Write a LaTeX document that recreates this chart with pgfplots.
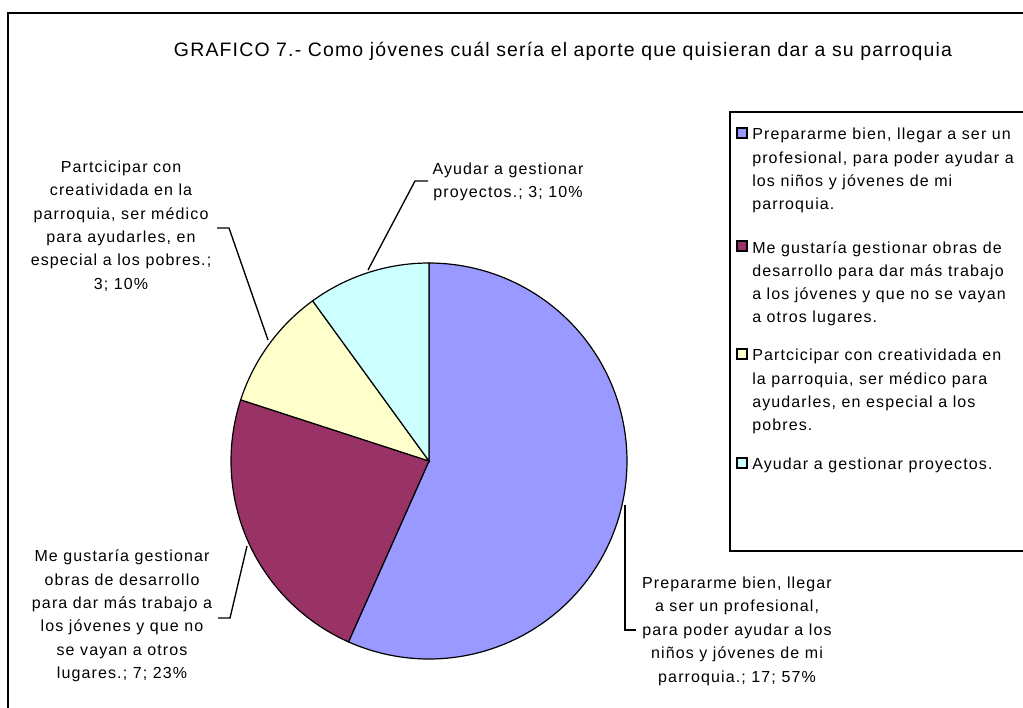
\documentclass[border=0pt]{standalone}
\usepackage{pgfplots}
\pgfplotsset{compat=1.18}
\usepackage{pgfplotstable}
\usepackage{fontspec}
\setmainfont{Liberation Sans}
\newfontfamily\lsfont[LetterSpace=7]{Liberation Sans}
\newfontfamily\lstfont[LetterSpace=6]{Liberation Sans}
\definecolor{pblue}{HTML}{9999FF}
\definecolor{pmaroon}{HTML}{993366}
\definecolor{pyellow}{HTML}{FFFFCC}
\definecolor{pcyan}{HTML}{CCFFFF}
\pgfplotstableread{
id value
A 17
B 7
C 3
D 3
}\piedata
\tikzset{
  lbl/.style={font=\lsfont\fontsize{12}{17.6}\selectfont, align=center, inner sep=0pt},
  leg/.style={font=\lsfont\fontsize{12}{17.4}\selectfont, align=left, inner sep=0pt, anchor=north west},
}
\begin{document}
\begin{tikzpicture}
\pgfplotstablegetelem{0}{value}\of\piedata \let\va\pgfplotsretval
\pgfplotstablegetelem{1}{value}\of\piedata \let\vb\pgfplotsretval
\pgfplotstablegetelem{2}{value}\of\piedata \let\vc\pgfplotsretval
\pgfplotstablegetelem{3}{value}\of\piedata \let\vd\pgfplotsretval
\pgfmathsetmacro\tot{\va+\vb+\vc+\vd}
\pgfmathsetmacro\aA{90}
\pgfmathsetmacro\aB{\aA-360*\va/\tot}
\pgfmathsetmacro\aC{\aB-360*\vb/\tot}
\pgfmathsetmacro\aD{\aC-360*\vc/\tot}
\pgfmathsetmacro\aE{\aD-360*\vd/\tot}
\begin{axis}[
  width=767.25pt, height=530.25pt, scale only axis,
  xmin=0, xmax=1023, ymin=0, ymax=707, y dir=reverse,
  hide axis, clip=false,
]
\path (axis cs:0,0) rectangle (axis cs:1023,707);
% outer chart border
\draw[overlay, line width=1.1pt] (axis cs:8,13) rectangle (axis cs:1045,725);
% title
\node[font=\lstfont\fontsize{14.6}{17}\selectfont] at (axis cs:563,51) {GRAFICO 7.- Como jóvenes cuál sería el aporte que quisieran dar a su parroquia};
% pie slices
\addplot[draw=black, line width=0.9pt, fill=pblue, domain=\aB:\aA, samples=120] ({429+198*cos(x)},{461-198*sin(x)}) -- (axis cs:429,461) -- cycle;
\addplot[draw=black, line width=0.9pt, fill=pmaroon, domain=\aC:\aB, samples=60] ({429+198*cos(x)},{461-198*sin(x)}) -- (axis cs:429,461) -- cycle;
\addplot[draw=black, line width=0.9pt, fill=pyellow, domain=\aD:\aC, samples=40] ({429+198*cos(x)},{461-198*sin(x)}) -- (axis cs:429,461) -- cycle;
\addplot[draw=black, line width=0.9pt, fill=pcyan, domain=\aE:\aD, samples=40] ({429+198*cos(x)},{461-198*sin(x)}) -- (axis cs:429,461) -- cycle;
% leader lines
\draw[line width=1pt] (axis cs:625,505) -- (axis cs:625,630) -- (axis cs:636,630);
\draw[line width=1pt] (axis cs:247,546) -- (axis cs:230,618) -- (axis cs:218,618);
\draw[line width=1pt] (axis cs:268,340) -- (axis cs:229,228) -- (axis cs:217,228);
\draw[line width=1pt] (axis cs:368,270) -- (axis cs:415,181) -- (axis cs:428,181);
% data labels
\node[lbl] at (axis cs:737,631) {Prepararme bien, llegar\\a ser un profesional,\\para poder ayudar a los\\niños y jóvenes de mi\\parroquia.; 17; 57\%};
\node[lbl] at (axis cs:122,616) {Me gustaría gestionar\\obras de desarrollo\\para dar más trabajo a\\los  jóvenes y que no\\se vayan a otros\\lugares.; 7; 23\%};
\node[lbl] at (axis cs:121,226) {Partcicipar con\\creatividada en la\\parroquia, ser médico\\para ayudarles, en\\especial a los pobres.;\\3; 10\%};
\node[lbl] at (axis cs:508,182) {Ayudar a gestionar\\proyectos.; 3; 10\%};
% legend
\draw[overlay, line width=1.1pt] (axis cs:730,112) rectangle (axis cs:1045,551);
\draw[line width=0.8pt, fill=pblue] (axis cs:737,128) rectangle (axis cs:747,138);
\draw[line width=0.8pt, fill=pmaroon] (axis cs:737,241) rectangle (axis cs:747,251);
\draw[line width=0.8pt, fill=pyellow] (axis cs:737,349) rectangle (axis cs:747,359);
\draw[line width=0.8pt, fill=pcyan] (axis cs:737,458) rectangle (axis cs:747,468);
\node[leg, overlay] at (axis cs:752,128) {Prepararme bien, llegar a ser un\\profesional, para poder ayudar a\\los niños y jóvenes de mi\\parroquia.};
\node[leg, overlay] at (axis cs:752,241) {Me gustaría gestionar obras de\\desarrollo  para dar más trabajo\\a los  jóvenes y que no se vayan\\a otros lugares.};
\node[leg, overlay] at (axis cs:752,349) {Partcicipar con creatividada en\\la parroquia, ser médico para\\ayudarles, en especial a los\\pobres.};
\node[leg, overlay] at (axis cs:752,458) {Ayudar a gestionar proyectos.};
\end{axis}
\end{tikzpicture}
\end{document}
